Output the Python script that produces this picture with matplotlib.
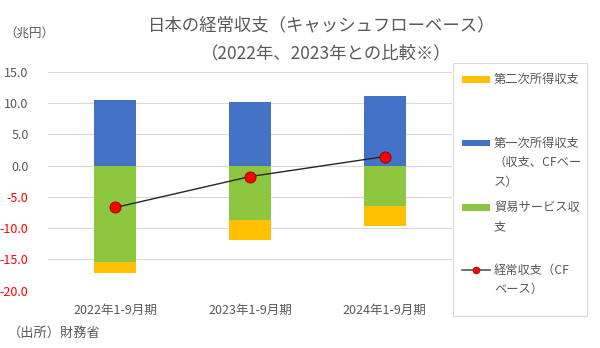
import matplotlib
matplotlib.use("Agg")
import matplotlib.pyplot as plt
from matplotlib.patches import Rectangle
from matplotlib.lines import Line2D
import numpy as np

plt.rcParams['font.family'] = ['Noto Sans CJK JP', 'DejaVu Sans']

categories = ['2022年1-9月期', '2023年1-9月期', '2024年1-9月期']
primary_income = [10.5, 10.15, 11.2]
trade_services = [-15.4, -8.7, -6.45]
secondary_income = [-1.85, -3.2, -3.2]
current_account = [-6.7, -1.75, 1.45]
yticks = [15.0, 10.0, 5.0, 0.0, -5.0, -10.0, -15.0, -20.0]

C_YEL = '#FFC000'
C_BLU = '#4472C4'
C_GRN = '#8DC63F'
GRAY = '#595959'

W, H = 600, 348
fig = plt.figure(figsize=(W/100, H/100), dpi=100)
ax = fig.add_axes([48/W, 1-290.5/H, 404/W, (290.5-72)/H])

x = np.arange(len(categories))
bw = 0.31
ax.bar(x, primary_income, bw, color=C_BLU, zorder=2)
ax.bar(x, trade_services, bw, color=C_GRN, zorder=2)
ax.bar(x, secondary_income, bw, bottom=trade_services, color=C_YEL, zorder=2)
ax.plot(x, current_account, color='#262626', lw=1.0, marker='o', ms=8,
        mfc='#FF0000', mec='#8B0000', mew=0.6, zorder=3)

ax.set_xlim(-0.5, len(categories)-0.5)
ax.set_ylim(-20, 15)
ax.set_yticks(yticks)
ax.set_yticklabels([f'{v:.1f}' for v in yticks])
for lab, v in zip(ax.get_yticklabels(), yticks):
    lab.set_color('#FF0000' if v < 0 else GRAY)
ax.set_xticks(x)
ax.set_xticklabels(categories, color=GRAY)
ax.tick_params(axis='both', length=0, labelsize=9)
ax.tick_params(axis='y', pad=14)
ax.tick_params(axis='x', pad=10)
ax.grid(axis='y', color='#D9D9D9', lw=0.8, zorder=0)
for s in ax.spines.values():
    s.set_visible(False)

# title
fig.text(322/W, 1-25/H, '日本の経常収支（キャッシュフローベース）', ha='center', va='center',
         fontsize=12.5, color=GRAY)
fig.text(326/W, 1-53/H, '（2022年、2023年との比較※）', ha='center', va='center',
         fontsize=12.5, color=GRAY)
fig.text(29/W, 1-33/H, '（兆円）', ha='center', va='center', fontsize=9, color=GRAY)
fig.text(8/W, 1-333/H, '（出所）財務省', ha='left', va='center', fontsize=9.5, color=GRAY)

# legend box
fig.add_artist(Rectangle((453/W, 1-316/H), 134/W, (316-63)/H, transform=fig.transFigure,
                         fill=False, ec='#D9D9D9', lw=0.8))
entries = [
    ('patch', C_YEL, ['第二次所得収支'], 79),
    ('patch', C_BLU, ['第一次所得収支', '（収支、CFベー', 'ス）'], 143),
    ('patch', C_GRN, ['貿易サービス収', '支'], 207),
    ('line', None, ['経常収支（CF', 'ベース）'], 270),
]
for kind, col, lines, yy in entries:
    if kind == 'patch':
        fig.add_artist(Rectangle((462/W, 1-(yy+3.5)/H), 28/W, 7/H, transform=fig.transFigure,
                                 fc=col, ec='none'))
    else:
        fig.add_artist(Line2D([462/W, 490/W], [1-yy/H, 1-yy/H], transform=fig.transFigure,
                              color='#595959', lw=1.2))
        fig.add_artist(Line2D([476/W], [1-yy/H], transform=fig.transFigure, marker='o',
                              ms=5, mfc='#FF0000', mec='#8B0000', mew=0.4))
    for i, t in enumerate(lines):
        fig.text(494/W, 1-(yy+i*19.5)/H, t, ha='left', va='center', fontsize=8.8, color=GRAY)

fig.savefig('out.png', dpi=100)
